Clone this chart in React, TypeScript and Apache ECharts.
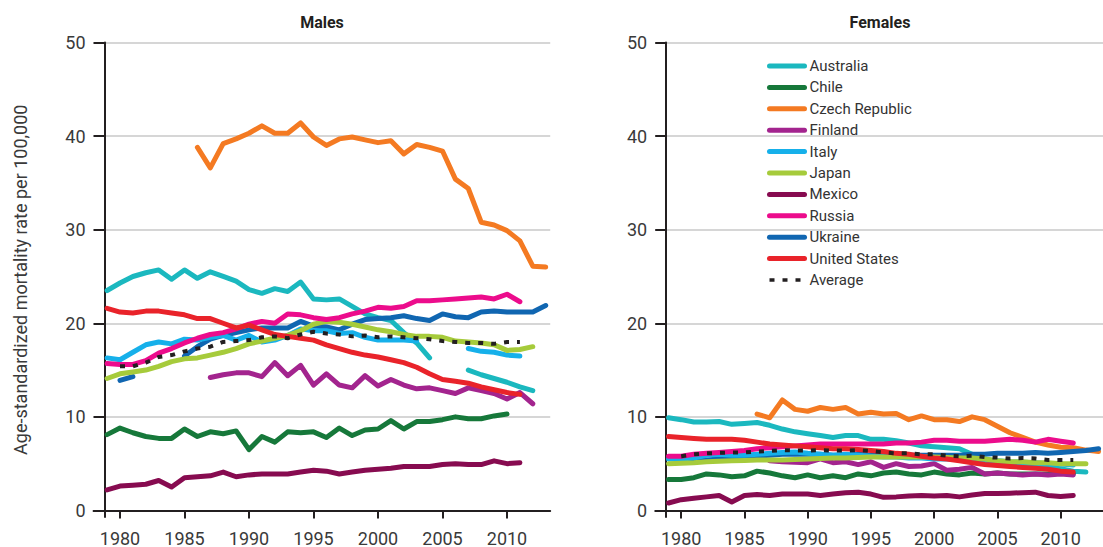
import React, { useEffect, useRef } from 'react';
import * as echarts from 'echarts';

// ---------- data ----------
const COUNTRIES = ['Australia', 'Chile', 'Czech Republic', 'Finland', 'Italy', 'Japan', 'Mexico', 'Russia', 'Ukraine', 'United States'];
const COLORS = ['#1bb8bf', '#16783a', '#f47a22', '#a3248e', '#16b0ea', '#a6cb3b', '#870b50', '#ec0c8c', '#1066b1', '#e9232a'];
const AVG_NAME = 'Average';
const X_TICKS = [1980, 1985, 1990, 1995, 2000, 2005, 2010];
const Y_TICKS = [0, 10, 20, 30, 40, 50];
const PANEL_TITLES = ['Males', 'Females'];
const Y_NAME = 'Age-standardized mortality rate per 100,000';

type Row = { start: number; values: (number | null)[] };

// Males
const australiaM: Row = { start: 1979, values: [23.5, 24.3, 25.0, 25.4, 25.7, 24.7, 25.7, 24.8, 25.5, 25.0, 24.5, 23.6, 23.2, 23.7, 23.4, 24.4, 22.6, 22.5, 22.6, 21.8, 21.0, 20.6, 20.3, 19.0, 17.9, 16.3, null, null, 15.0, 14.5, 14.1, 13.7, 13.2, 12.8] };
const chileM: Row = { start: 1979, values: [8.1, 8.8, 8.3, 7.9, 7.7, 7.7, 8.7, 7.9, 8.4, 8.2, 8.5, 6.5, 7.9, 7.3, 8.4, 8.3, 8.4, 7.8, 8.8, 8.0, 8.6, 8.7, 9.6, 8.7, 9.5, 9.5, 9.7, 10.0, 9.8, 9.8, 10.1, 10.3] };
const czechM: Row = { start: 1986, values: [38.8, 36.6, 39.2, 39.7, 40.3, 41.1, 40.3, 40.3, 41.4, 39.9, 39.0, 39.7, 39.9, 39.6, 39.3, 39.5, 38.1, 39.1, 38.8, 38.4, 35.4, 34.4, 30.8, 30.5, 29.9, 28.8, 26.1, 26.0] };
const finlandM: Row = { start: 1987, values: [14.2, 14.5, 14.7, 14.7, 14.3, 15.8, 14.4, 15.5, 13.4, 14.6, 13.4, 13.1, 14.4, 13.3, 14.0, 13.4, 13.0, 13.1, 12.8, 12.5, 13.1, 12.8, 12.5, 11.9, 12.6, 11.4] };
const italyM: Row = { start: 1979, values: [16.3, 16.1, 16.9, 17.7, 18.0, 17.8, 18.3, 18.2, 18.5, 18.7, 18.2, 18.7, 18.0, 18.2, 18.7, 19.4, 19.2, 19.2, 18.9, 19.0, 18.5, 18.2, 18.2, 18.2, 18.1, null, null, null, 17.3, 17.0, 16.9, 16.6, 16.5] };
const japanM: Row = { start: 1979, values: [14.1, 14.6, 14.8, 15.0, 15.4, 15.9, 16.2, 16.3, 16.6, 16.9, 17.3, 17.8, 18.1, 18.4, 18.7, 19.2, 19.9, 20.2, 20.1, 19.9, 19.6, 19.3, 19.1, 18.8, 18.6, 18.6, 18.5, 18.1, 18.0, 17.9, 17.7, 17.1, 17.2, 17.5] };
const mexicoM: Row = { start: 1979, values: [2.2, 2.6, 2.7, 2.8, 3.2, 2.5, 3.5, 3.6, 3.7, 4.1, 3.6, 3.8, 3.9, 3.9, 3.9, 4.1, 4.3, 4.2, 3.9, 4.1, 4.3, 4.4, 4.5, 4.7, 4.7, 4.7, 4.9, 5.0, 4.9, 4.9, 5.3, 5.0, 5.1] };
const russiaM: Row = { start: 1979, values: [15.7, 15.6, 15.6, 16.0, 16.8, 17.3, 17.9, 18.4, 18.8, 19.0, 19.4, 19.9, 20.2, 20.0, 21.0, 20.9, 20.6, 20.4, 20.6, 21.0, 21.3, 21.7, 21.6, 21.8, 22.4, 22.4, 22.5, 22.6, 22.7, 22.8, 22.6, 23.1, 22.3] };
const ukraineM: Row = { start: 1980, values: [13.9, 14.3, null, null, null, 16.5, 17.5, 18.3, 18.7, 19.0, 19.3, 19.5, 19.5, 19.5, 20.2, 19.7, 19.6, 19.3, 19.9, 20.4, 20.5, 20.6, 20.8, 20.5, 20.3, 21.0, 20.7, 20.6, 21.2, 21.3, 21.2, 21.2, 21.2, 21.9] };
const usM: Row = { start: 1979, values: [21.6, 21.2, 21.1, 21.3, 21.3, 21.1, 20.9, 20.5, 20.5, 20.0, 19.5, 19.8, 19.3, 18.8, 18.6, 18.4, 18.2, 17.7, 17.3, 16.9, 16.6, 16.4, 16.1, 15.8, 15.3, 14.6, 14.0, 13.8, 13.6, 13.2, 12.9, 12.6, 12.4] };
const avgM: Row = { start: 1980, values: [15.4, 15.4, 15.8, 16.4, 16.6, 17.0, 17.3, 17.5, 18.0, 18.1, 18.2, 18.5, 18.6, 18.4, 18.8, 19.1, 18.9, 18.8, 18.6, 18.7, 18.5, 18.6, 18.5, 18.4, 18.3, 18.1, 18.0, 17.9, 17.9, 17.8, 18.0, 18.0] };

// Females
const australiaF: Row = { start: 1979, values: [9.9, 9.7, 9.45, 9.45, 9.5, 9.2, 9.3, 9.4, 9.1, 8.7, 8.4, 8.2, 8.0, 7.8, 8.0, 8.0, 7.6, 7.6, 7.45, 7.2, 6.9, 6.8, 6.7, 6.6, 6.0, 5.5, 5.2, 5.0, 4.9, 4.7, 4.6, 4.45, 4.2, 4.1] };
const chileF: Row = { start: 1979, values: [3.3, 3.3, 3.5, 3.9, 3.8, 3.6, 3.7, 4.2, 4.0, 3.7, 3.5, 3.8, 3.5, 3.7, 3.5, 3.9, 3.7, 4.0, 4.1, 3.9, 3.8, 4.1, 3.9, 3.8, 4.0, 3.9, 4.0, 3.9, 3.9, 3.9, 3.9, 4.1, 3.9] };
const czechF: Row = { start: 1986, values: [10.3, 9.9, 11.8, 10.8, 10.6, 11.0, 10.8, 11.0, 10.3, 10.5, 10.3, 10.35, 9.7, 10.1, 9.7, 9.7, 9.5, 10.0, 9.7, 9.0, 8.3, 7.8, 7.3, 7.0, 6.75, 6.7, 6.45, 6.3] };
const finlandF: Row = { start: 1987, values: [5.3, 5.2, 5.15, 5.1, 5.5, 5.1, 5.2, 4.9, 5.2, 4.6, 5.0, 4.7, 4.75, 5.0, 4.3, 4.4, 4.6, 3.9, 4.0, 3.9, 3.8, 3.9, 3.8, 3.9, 3.8] };
const italyF: Row = { start: 1979, values: [5.5, 5.5, 5.6, 5.9, 6.0, 5.9, 5.9, 6.0, 6.1, 6.2, 6.25, 6.1, 6.0, 5.9, 6.0, 5.9, 5.8, 5.7, 5.7, 5.6, 5.6, 5.5, 5.5, 5.5, 5.4, 5.35, 5.3, 5.2, 5.15, 5.1, 5.0, 4.95, 4.85] };
const japanF: Row = { start: 1979, values: [5.0, 5.05, 5.1, 5.2, 5.25, 5.3, 5.35, 5.4, 5.4, 5.4, 5.45, 5.5, 5.55, 5.6, 5.6, 5.65, 5.7, 5.7, 5.7, 5.7, 5.7, 5.7, 5.65, 5.6, 5.6, 5.5, 5.3, 5.2, 5.2, 5.1, 5.1, 5.0, 5.0, 5.0] };
const mexicoF: Row = { start: 1979, values: [0.8, 1.15, 1.3, 1.45, 1.6, 0.9, 1.6, 1.7, 1.6, 1.75, 1.75, 1.75, 1.6, 1.75, 1.9, 1.95, 1.75, 1.4, 1.45, 1.55, 1.6, 1.55, 1.6, 1.45, 1.65, 1.8, 1.8, 1.85, 1.9, 1.95, 1.6, 1.5, 1.6] };
const russiaF: Row = { start: 1979, values: [5.8, 5.8, 6.0, 6.1, 6.2, 6.3, 6.4, 6.6, 6.7, 6.8, 6.9, 7.0, 7.1, 7.1, 7.1, 7.1, 7.1, 7.1, 7.2, 7.2, 7.3, 7.5, 7.5, 7.4, 7.4, 7.4, 7.5, 7.6, 7.5, 7.3, 7.6, 7.4, 7.2] };
const ukraineF: Row = { start: 1980, values: [5.2, 5.3, 5.4, 5.5, 5.6, 5.7, 5.8, 5.9, 6.0, 6.0, 6.0, 6.0, 5.9, 5.9, 6.0, 5.9, 5.9, 5.9, 5.9, 5.9, 5.9, 5.9, 5.9, 6.0, 6.0, 6.1, 6.1, 6.1, 6.2, 6.1, 6.2, 6.3, 6.4, 6.6] };
const usF: Row = { start: 1979, values: [7.9, 7.8, 7.7, 7.6, 7.6, 7.6, 7.5, 7.3, 7.1, 7.0, 6.9, 6.8, 6.7, 6.6, 6.6, 6.5, 6.4, 6.3, 6.1, 6.0, 5.8, 5.6, 5.5, 5.3, 5.1, 4.9, 4.8, 4.7, 4.6, 4.5, 4.4, 4.2, 4.1] };
const avgF: Row = { start: 1980, values: [5.8, 6.0, 6.1, 6.15, 6.2, 6.2, 6.3, 6.35, 6.45, 6.4, 6.4, 6.45, 6.4, 6.4, 6.45, 6.35, 6.2, 6.1, 6.1, 6.0, 6.0, 5.85, 5.8, 5.85, 5.7, 5.65, 5.55, 5.6, 5.55, 5.4, 5.4, 5.4] };

const MALES: Row[] = [australiaM, chileM, czechM, finlandM, italyM, japanM, mexicoM, russiaM, ukraineM, usM];
const FEMALES: Row[] = [australiaF, chileF, czechF, finlandF, italyF, japanF, mexicoF, russiaF, ukraineF, usF];
const AVERAGES: Row[] = [avgM, avgF];

// ---------- layout ----------
const PX_PER_YEAR = 12.9;
const X_MIN = 1977.95;
const X_MAX = 2013.35;
const Y_MIN = -0.7;
const Y_MAX = 50;
const AXIS_AT = 1978.8;
const GRID_TOP = 42.5;
const GRID_H = 478.1;
const GRID_W = (X_MAX - X_MIN) * PX_PER_YEAR;
const FIRST_TICK_PX = [120, 681.7];
const INK = '#231f20';
const LABEL = '#3a3a3a';
const FONT = 'Roboto, "Noto Sans", sans-serif';
// drawing order (higher on top); Ukraine sits beneath Italy/Japan
const Z_ORDER = [2.0, 2.01, 2.02, 2.03, 2.05, 2.06, 2.07, 2.08, 2.04, 2.09];

const toPairs = (r: Row) => r.values.map((v, i) => [r.start + i, v === null ? '-' : v]);

function buildOption() {
  const grids = [0, 1].map((p) => ({
    left: FIRST_TICK_PX[p] - (1980 - X_MIN) * PX_PER_YEAR,
    top: GRID_TOP,
    width: GRID_W,
    height: GRID_H,
  }));
  const axisOffset = -(AXIS_AT - X_MIN) * PX_PER_YEAR;

  const xAxes = [0, 1].map((p) => ({
    type: 'value',
    gridIndex: p,
    min: X_MIN,
    max: X_MAX,
    axisLine: { show: true, onZero: true, lineStyle: { color: INK, width: 2 } },
    axisTick: { show: true, inside: false, length: 8, customValues: X_TICKS, lineStyle: { color: INK, width: 2 } },
    axisLabel: {
      show: true,
      customValues: X_TICKS,
      formatter: (v: number) => String(v),
      margin: 12,
      color: LABEL,
      fontSize: 18,
      fontFamily: FONT,
    },
    splitLine: { show: false },
  }));

  const yAxes = [0, 1].map((p) => ({
    type: 'value',
    gridIndex: p,
    min: Y_MIN,
    max: Y_MAX,
    position: 'left',
    offset: axisOffset,
    name: p === 0 ? Y_NAME : '',
    nameLocation: 'middle',
    nameGap: 75,
    nameRotate: 90,
    nameTextStyle: { color: LABEL, fontSize: 18, fontFamily: FONT },
    axisLine: { show: true, onZero: false, lineStyle: { color: INK, width: 2 } },
    axisTick: { show: true, inside: false, length: 11, customValues: Y_TICKS, lineStyle: { color: INK, width: 2 } },
    axisLabel: {
      show: true,
      customValues: Y_TICKS,
      margin: 19,
      color: LABEL,
      fontSize: 18,
      fontFamily: FONT,
    },
    splitLine: { show: true, lineStyle: { color: '#c9c9c9', width: 1.5 } },
  }));

  const series: any[] = [];
  [MALES, FEMALES].forEach((rows, p) => {
    rows.forEach((row, i) => {
      series.push({
        type: 'line',
        name: COUNTRIES[i],
        xAxisIndex: p,
        yAxisIndex: p,
        data: toPairs(row),
        symbol: 'none',
        showSymbol: false,
        connectNulls: false,
        silent: true,
        lineStyle: { color: COLORS[i], width: 5, cap: 'round', join: 'round' },
        itemStyle: { color: COLORS[i] },
        z: Z_ORDER[i],
      });
    });
    series.push({
      type: 'line',
      name: AVG_NAME,
      xAxisIndex: p,
      yAxisIndex: p,
      data: toPairs(AVERAGES[p]),
      symbol: 'none',
      showSymbol: false,
      silent: true,
      lineStyle: { color: INK, width: 4, type: [5, 8], cap: 'butt' },
      itemStyle: { color: INK },
      z: 3,
    });
  });

  const legendData: any[] = COUNTRIES.map((n) => ({ name: n, lineStyle: { width: 5 } }));
  legendData.push({ name: AVG_NAME, lineStyle: { width: 3.5 } });

  return {
    animation: false,
    backgroundColor: '#ffffff',
    grid: grids,
    xAxis: xAxes,
    yAxis: yAxes,
    legend: {
      show: true,
      orient: 'vertical',
      left: 762,
      top: 53,
      itemWidth: 35,
      itemHeight: 14,
      itemGap: 5.4,
      selectedMode: false,
      data: legendData,
      itemStyle: { opacity: 0 },
      textStyle: { color: '#333333', fontSize: 15, fontFamily: FONT, lineHeight: 16 },
    },
    graphic: PANEL_TITLES.map((t, p) => ({
      type: 'text',
      x: p === 0 ? 322 : 880,
      y: 22,
      style: {
        text: t,
        align: 'center',
        verticalAlign: 'middle',
        fill: INK,
        font: `bold 16px ${FONT}`,
      },
    })),
    series,
  };
}

export default function App() {
  const ref = useRef<HTMLDivElement>(null);
  useEffect(() => {
    if (!ref.current) return;
    const chart = echarts.init(ref.current, undefined, { renderer: 'svg' });
    chart.setOption(buildOption() as any);
    return () => chart.dispose();
  }, []);
  return (
    <div
      ref={ref}
      style={{ position: 'fixed', left: 0, top: 0, width: 1103, height: 547, background: '#fff' }}
    />
  );
}
